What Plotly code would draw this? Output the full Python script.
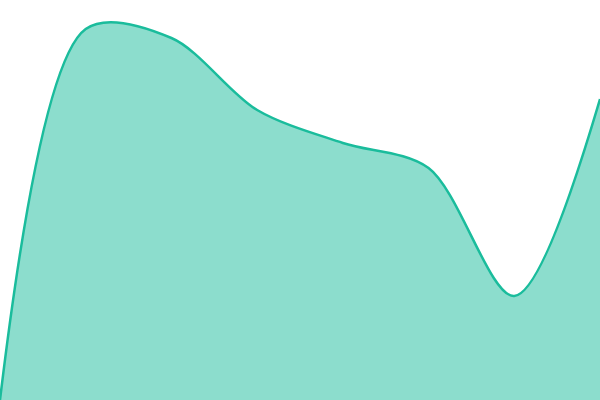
import plotly.graph_objects as go

# sample index and values (bottom of window = 0)
steps = [0, 1, 2, 3, 4, 5, 6, 7]
values = [0, 371, 362, 290, 257, 232, 104, 301]

fig = go.Figure()
fig.add_trace(go.Scatter(
    x=steps,
    y=values,
    mode='lines',
    line=dict(color='#1abc9c', width=2.5, shape='spline', smoothing=0.9),
    fill='tozeroy',
    fillcolor='rgba(26,188,156,0.5)',
    hoverinfo='skip'
))

fig.update_layout(
    width=600, height=400,
    margin=dict(l=0, r=0, t=0, b=0),
    paper_bgcolor='white', plot_bgcolor='white',
    showlegend=False
)
fig.update_xaxes(visible=False, range=[0, 7])
fig.update_yaxes(visible=False, range=[0, 400])

# page body has an 8px default margin, drop it so the chart fills the window
fig.write_html("out.html", config={'displayModeBar': False},
               post_script="document.body.style.margin='0';")
